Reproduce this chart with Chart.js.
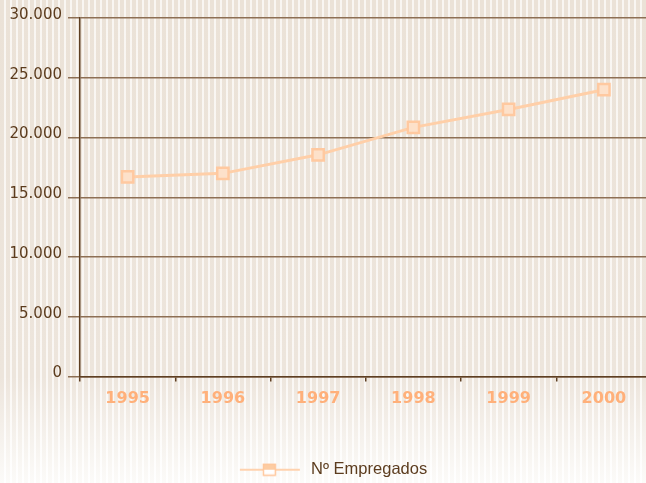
<!DOCTYPE html>
<html>
<head>
<meta charset="utf-8">
<script src="https://cdn.jsdelivr.net/npm/chart.js@4/dist/chart.umd.min.js"></script>
<style>
  html, body { margin: 0; padding: 0; overflow: hidden; background: #ffffff; }
  #wrap { width: 662px; height: 488px; }
</style>
</head>
<body>
<div id="wrap"><canvas id="c" width="662" height="488"></canvas></div>
<script>
const categories = ['1995', '1996', '1997', '1998', '1999', '2000'];
const empregados = [16700, 17000, 18550, 20850, 22350, 24000];
const seriesLabel = 'Nº Empregados';
const yMin = 0;
const yMax = 30000;
const yStep = 5000;

function fmtThousands(v) {
  return String(v).replace(/\B(?=(\d{3})+(?!\d))/g, '.');
}

const legendImg = document.createElement('canvas');
legendImg.width = 68; legendImg.height = 14;
(function () {
  const g = legendImg.getContext('2d');
  g.strokeStyle = '#ffd2ae'; g.lineWidth = 2;
  g.beginPath(); g.moveTo(5, 7); g.lineTo(65, 7); g.stroke();
  g.fillStyle = '#ffffff'; g.fillRect(28.5, 1.5, 12, 11);
  g.fillStyle = '#fdcca2'; g.fillRect(28.5, 1.5, 12, 5.5);
  g.strokeStyle = '#ffc79b'; g.lineWidth = 1.5;
  g.strokeRect(28.5, 1.5, 12, 11);
})();

const stripeBg = {
  id: 'stripeBg',
  beforeDraw(chart) {
    const ctx = chart.ctx, W = chart.width, H = 483;
    ctx.save();
    const base = ctx.createLinearGradient(0, 0, 0, H);
    base.addColorStop(0, '#f9f6f2');
    base.addColorStop(0.78, '#faf7f4');
    base.addColorStop(1, '#ffffff');
    ctx.fillStyle = base;
    ctx.fillRect(0, 0, W, chart.height);
    const st = ctx.createLinearGradient(0, 0, 0, H);
    st.addColorStop(0, '#ebe2d7');
    st.addColorStop(0.78, '#ede5dc');
    st.addColorStop(1, '#fcfbf9');
    ctx.fillStyle = st;
    for (let x = 0; x < W; x += 6) {
      ctx.fillRect(x, 0, 4, chart.height);
    }
    ctx.restore();
  }
};

new Chart(document.getElementById('c'), {
  type: 'line',
  data: {
    labels: categories,
    datasets: [{
      label: seriesLabel,
      data: empregados,
      borderColor: '#ffcfa8',
      borderWidth: 3,
      tension: 0,
      pointStyle: 'rect',
      pointRadius: 8,
      pointBorderWidth: 2.5,
      pointBorderColor: '#ffc9a0',
      pointBackgroundColor: '#fde1ca',
      fill: false
    }]
  },
  options: {
    responsive: false,
    animation: false,
    events: [],
    layout: { padding: { left: 0, right: 0, top: 18, bottom: 0 } },
    plugins: {
      legend: {
        display: true,
        position: 'bottom',
        labels: {
          usePointStyle: true,
          pointStyleWidth: 68,
          padding: 4.5,
          color: '#5c3c1e',
          font: { family: 'Liberation Sans', size: 16.5 },
          generateLabels(chart) {
            return [{
              text: seriesLabel,
              pointStyle: legendImg,
              fillStyle: '#fdcca2',
              strokeStyle: '#ffc79b',
              lineWidth: 0,
              hidden: false,
              datasetIndex: 0,
              fontColor: '#5c3c1e'
            }];
          }
        }
      },
      tooltip: { enabled: false }
    },
    scales: {
      x: {
        type: 'category',
        offset: true,
        afterFit(scale) { scale.height = 80.5; },
        grid: {
          display: true,
          drawOnChartArea: false,
          drawTicks: true,
          tickLength: 5,
          color: '#5e3f22',
          lineWidth: 1.5,
          offset: true
        },
        border: { display: true, color: '#5e3f22', width: 1.5 },
        ticks: {
          color: '#ffb07a',
          padding: 8,
          maxRotation: 0,
          font: { family: 'DejaVu Sans', size: 16, weight: 'bold' }
        }
      },
      y: {
        min: yMin,
        max: yMax,
        afterFit(scale) { scale.width = 80; },
        grid: {
          color: '#8d6f54',
          lineWidth: 1.5,
          tickLength: 12,
          drawTicks: true
        },
        border: { display: true, color: '#5e3f22', width: 1.5 },
        ticks: {
          stepSize: yStep,
          padding: 6,
          labelOffset: -3,
          color: '#5c3c1e',
          font: { family: 'DejaVu Sans', size: 15 },
          callback: (v) => fmtThousands(v)
        }
      }
    }
  },
  plugins: [stripeBg]
});
</script>
</body>
</html>
